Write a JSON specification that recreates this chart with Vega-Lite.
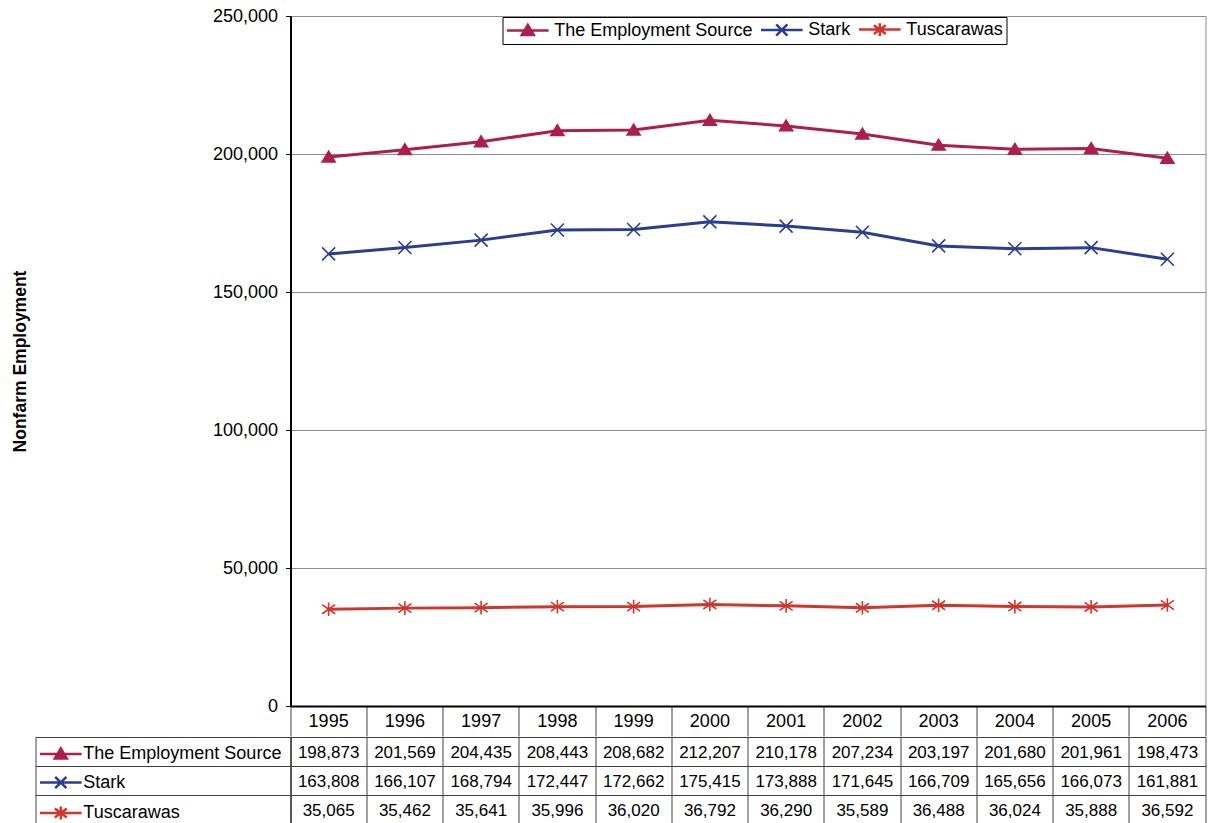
{
  "$schema": "https://vega.github.io/schema/vega-lite/v6.json",
  "padding": {"left": 10.5, "top": 6, "right": 0, "bottom": 0},
  "bounds": "flush",
  "columns": 2,
  "spacing": {"row": 31, "column": 0},
  "config": {
    "font": "Liberation Sans",
    "view": {"stroke": null},
    "axis": {"labelColor": "black", "titleColor": "black", "labelFont": "Liberation Sans", "titleFont": "Liberation Sans"},
    "legend": {"labelColor": "black", "labelFont": "Liberation Sans"},
    "text": {"color": "black", "font": "Liberation Sans"}
  },
  "datasets": {
    "emp": [
      {"year": 1995, "series": "The Employment Source", "value": 198873},
      {"year": 1996, "series": "The Employment Source", "value": 201569},
      {"year": 1997, "series": "The Employment Source", "value": 204435},
      {"year": 1998, "series": "The Employment Source", "value": 208443},
      {"year": 1999, "series": "The Employment Source", "value": 208682},
      {"year": 2000, "series": "The Employment Source", "value": 212207},
      {"year": 2001, "series": "The Employment Source", "value": 210178},
      {"year": 2002, "series": "The Employment Source", "value": 207234},
      {"year": 2003, "series": "The Employment Source", "value": 203197},
      {"year": 2004, "series": "The Employment Source", "value": 201680},
      {"year": 2005, "series": "The Employment Source", "value": 201961},
      {"year": 2006, "series": "The Employment Source", "value": 198473},
      {"year": 1995, "series": "Stark", "value": 163808},
      {"year": 1996, "series": "Stark", "value": 166107},
      {"year": 1997, "series": "Stark", "value": 168794},
      {"year": 1998, "series": "Stark", "value": 172447},
      {"year": 1999, "series": "Stark", "value": 172662},
      {"year": 2000, "series": "Stark", "value": 175415},
      {"year": 2001, "series": "Stark", "value": 173888},
      {"year": 2002, "series": "Stark", "value": 171645},
      {"year": 2003, "series": "Stark", "value": 166709},
      {"year": 2004, "series": "Stark", "value": 165656},
      {"year": 2005, "series": "Stark", "value": 166073},
      {"year": 2006, "series": "Stark", "value": 161881},
      {"year": 1995, "series": "Tuscarawas", "value": 35065},
      {"year": 1996, "series": "Tuscarawas", "value": 35462},
      {"year": 1997, "series": "Tuscarawas", "value": 35641},
      {"year": 1998, "series": "Tuscarawas", "value": 35996},
      {"year": 1999, "series": "Tuscarawas", "value": 36020},
      {"year": 2000, "series": "Tuscarawas", "value": 36792},
      {"year": 2001, "series": "Tuscarawas", "value": 36290},
      {"year": 2002, "series": "Tuscarawas", "value": 35589},
      {"year": 2003, "series": "Tuscarawas", "value": 36488},
      {"year": 2004, "series": "Tuscarawas", "value": 36024},
      {"year": 2005, "series": "Tuscarawas", "value": 35888},
      {"year": 2006, "series": "Tuscarawas", "value": 36592}
    ]
  },
  "resolve": {
    "scale": {"x": "independent", "y": "independent", "fill": "independent", "stroke": "independent", "shape": "independent"},
    "legend": {"fill": "independent", "stroke": "independent", "shape": "independent"}
  },
  "concat": [
    {
      "width": 255,
      "height": 690,
      "data": {"values": []},
      "mark": "point",
      "encoding": {}
    },
    {
      "width": 915,
      "height": 690,
      "data": {"name": "emp"},
      "view": {"stroke": "#8c8c8c"},
      "encoding": {
        "x": {"field": "year", "type": "ordinal", "bandPosition": 0.5,
              "scale": {"type": "band", "paddingInner": 0, "paddingOuter": 0},
              "axis": {"title": null, "orient": "bottom", "bandPosition": 1, "tickExtra": true, "tickSize": 30, "tickColor": "#404040", "tickWidth": 1, "domainColor": "black", "domainWidth": 2, "labelFontSize": 18, "labelPadding": -15, "labelBaseline": "middle", "labelAngle": 0, "grid": false}},
        "y": {"field": "value", "type": "quantitative",
              "scale": {"domain": [0, 250000], "nice": false},
              "axis": {"title": "Nonfarm Employment", "values": [0, 50000, 100000, 150000, 200000, 250000], "labelExpr": "format(datum.value, ',')", "grid": true, "gridColor": "#8c8c8c", "tickSize": 5, "tickColor": "black", "domainColor": "black", "domainWidth": 2, "labelFontSize": 18, "labelPadding": 8, "titleFontSize": 17.5, "titleFontWeight": "bold", "titlePadding": 183}}
      },
      "layer": [
        {
          "mark": {"type": "line", "strokeWidth": 3},
          "encoding": {
            "stroke": {"field": "series", "type": "nominal", "legend": null,
                       "scale": {"domain": ["The Employment Source", "Stark", "Tuscarawas"], "range": ["#AD1F4A", "#2A3D8F", "#D1352B"]}}
          }
        },
        {
          "mark": {"type": "point", "filled": true, "opacity": 1, "strokeWidth": 1.6, "size": 169},
          "encoding": {
            "fill": {"field": "series", "type": "nominal", "legend": null,
                     "scale": {"domain": ["The Employment Source", "Stark", "Tuscarawas"], "range": ["#AD1F4A", "#2A3D8F", "#D1352B"]}},
            "stroke": {"field": "series", "type": "nominal", "legend": null,
                       "scale": {"domain": ["The Employment Source", "Stark", "Tuscarawas"], "range": ["#AD1F4A", "#2A3D8F", "#D1352B"]}},
            "shape": {"field": "series", "type": "nominal", "legend": null,
                      "scale": {"domain": ["The Employment Source", "Stark", "Tuscarawas"], "range": ["M0,-0.9L1,0.75H-1Z", "M-1,-1L1,1M-1,1L1,-1", "M-1,-0.7L1,0.7M-1,0.7L1,-0.7M0,-1.05V1.05"]}}
          }
        },
        {
          "transform": [{"filter": "false"}],
          "mark": {"type": "point", "filled": true, "opacity": 1},
          "encoding": {
            "fill": {"field": "series", "type": "nominal",
                     "scale": {"domain": ["The Employment Source", "Stark", "Tuscarawas"], "range": ["#AD1F4A", "#2A3D8F", "#D1352B"]},
                     "legend": {"title": null, "orient": "none", "legendX": 212, "legendY": 1, "direction": "horizontal", "columns": 3, "symbolSize": 256, "symbolStrokeWidth": 2.5, "symbolOpacity": 1, "symbolOffset": 12.8, "labelFontSize": 18, "labelOffset": 17, "labelLimit": 400, "columnPadding": 3, "padding": 3, "strokeColor": "black", "fillColor": "white"}},
            "stroke": {"field": "series", "type": "nominal",
                       "scale": {"domain": ["The Employment Source", "Stark", "Tuscarawas"], "range": ["#AD1F4A", "#2A3D8F", "#D1352B"]},
                       "legend": {"title": null, "orient": "none", "legendX": 212, "legendY": 1, "direction": "horizontal", "columns": 3, "symbolSize": 256, "symbolStrokeWidth": 2.5, "symbolOpacity": 1, "symbolOffset": 12.8, "labelFontSize": 18, "labelOffset": 17, "labelLimit": 400, "columnPadding": 3, "padding": 3, "strokeColor": "black", "fillColor": "white"}},
            "shape": {"field": "series", "type": "nominal",
                      "scale": {"domain": ["The Employment Source", "Stark", "Tuscarawas"], "range": ["M-2.6,0H2.6M0,-0.7L0.75,0.55H-0.75Z", "M-2.6,0H2.6M-0.7,-0.7L0.7,0.7M-0.7,0.7L0.7,-0.7", "M-2.6,0H2.6M-0.75,-0.55L0.75,0.55M-0.75,0.55L0.75,-0.55M0,-0.8V0.8"]},
                      "legend": {"title": null, "orient": "none", "legendX": 212, "legendY": 1, "direction": "horizontal", "columns": 3, "symbolSize": 256, "symbolStrokeWidth": 2.5, "symbolOpacity": 1, "symbolOffset": 12.8, "labelFontSize": 18, "labelOffset": 17, "labelLimit": 400, "columnPadding": 3, "padding": 3, "strokeColor": "black", "fillColor": "white"}}
          }
        }
      ],
      "resolve": {
        "scale": {"fill": "independent", "stroke": "independent", "shape": "independent"},
        "legend": {"fill": "independent", "stroke": "independent", "shape": "independent"}
      }
    },
    {
      "width": 255,
      "height": 87,
      "data": {"name": "emp"},
      "view": {"stroke": "#404040"},
      "transform": [{"filter": "false"}],
      "mark": {"type": "point", "filled": true, "opacity": 1},
      "encoding": {
        "y": {"field": "series", "type": "nominal",
              "scale": {"type": "band", "domain": ["The Employment Source", "Stark", "Tuscarawas"], "paddingInner": 0, "paddingOuter": 0},
              "axis": {"title": null, "labels": false, "ticks": false, "domain": false, "grid": true, "bandPosition": 0, "gridColor": "#404040"}},
        "fill": {"field": "series", "type": "nominal",
                 "scale": {"domain": ["The Employment Source", "Stark", "Tuscarawas"], "range": ["#AD1F4A", "#2A3D8F", "#D1352B"]},
                 "legend": {"title": null, "orient": "none", "legendX": 3, "legendY": 7.5, "direction": "vertical", "columns": 1, "symbolSize": 256, "symbolStrokeWidth": 2.5, "symbolOpacity": 1, "symbolOffset": 12.8, "labelFontSize": 18, "labelOffset": 13, "labelLimit": 400, "rowPadding": 7.5, "padding": 0}},
        "stroke": {"field": "series", "type": "nominal",
                   "scale": {"domain": ["The Employment Source", "Stark", "Tuscarawas"], "range": ["#AD1F4A", "#2A3D8F", "#D1352B"]},
                   "legend": {"title": null, "orient": "none", "legendX": 3, "legendY": 7.5, "direction": "vertical", "columns": 1, "symbolSize": 256, "symbolStrokeWidth": 2.5, "symbolOpacity": 1, "symbolOffset": 12.8, "labelFontSize": 18, "labelOffset": 13, "labelLimit": 400, "rowPadding": 7.5, "padding": 0}},
        "shape": {"field": "series", "type": "nominal",
                  "scale": {"domain": ["The Employment Source", "Stark", "Tuscarawas"], "range": ["M-2.6,0H2.6M0,-0.7L0.75,0.55H-0.75Z", "M-2.6,0H2.6M-0.7,-0.7L0.7,0.7M-0.7,0.7L0.7,-0.7", "M-2.6,0H2.6M-0.75,-0.55L0.75,0.55M-0.75,0.55L0.75,-0.55M0,-0.8V0.8"]},
                  "legend": {"title": null, "orient": "none", "legendX": 3, "legendY": 7.5, "direction": "vertical", "columns": 1, "symbolSize": 256, "symbolStrokeWidth": 2.5, "symbolOpacity": 1, "symbolOffset": 12.8, "labelFontSize": 18, "labelOffset": 13, "labelLimit": 400, "rowPadding": 7.5, "padding": 0}}
      }
    },
    {
      "width": 915,
      "height": 87,
      "data": {"name": "emp"},
      "view": {"stroke": "#404040"},
      "mark": {"type": "text", "fontSize": 17, "baseline": "middle", "align": "center", "dy": 1.5},
      "encoding": {
        "x": {"field": "year", "type": "ordinal", "bandPosition": 0.5,
              "scale": {"type": "band", "paddingInner": 0, "paddingOuter": 0},
              "axis": {"title": null, "labels": false, "ticks": false, "domain": false, "grid": true, "bandPosition": 0, "gridColor": "#404040"}},
        "y": {"field": "series", "type": "nominal", "bandPosition": 0.5,
              "scale": {"type": "band", "domain": ["The Employment Source", "Stark", "Tuscarawas"], "paddingInner": 0, "paddingOuter": 0},
              "axis": {"title": null, "labels": false, "ticks": false, "domain": false, "grid": true, "bandPosition": 0, "gridColor": "#404040"}},
        "text": {"field": "value", "type": "quantitative", "format": ","}
      }
    }
  ]
}
